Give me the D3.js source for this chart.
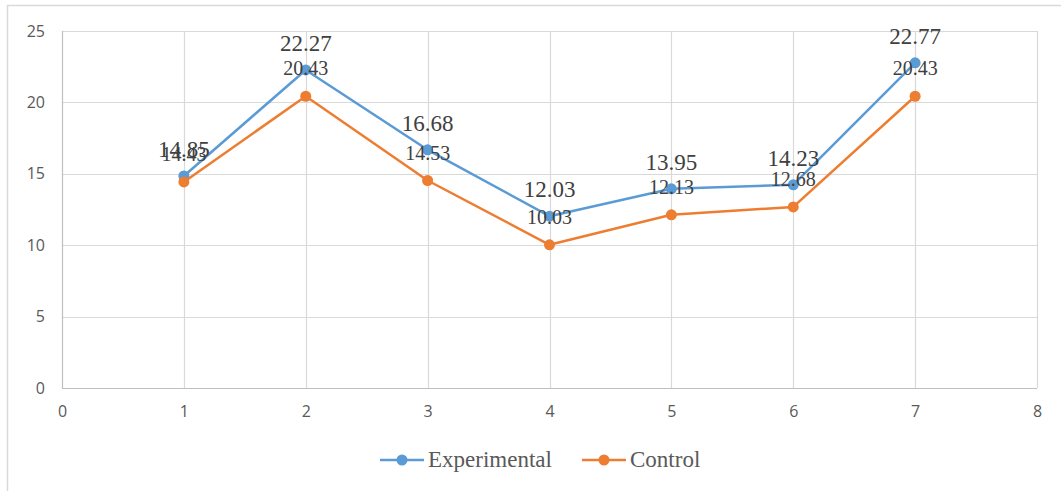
<!DOCTYPE html>
<html><head><meta charset="utf-8">
<script src="https://cdn.jsdelivr.net/npm/d3@7"></script>
<style>html,body{margin:0;padding:0;background:#fff;}svg{display:block;}</style>
</head><body>
<svg id="c" width="1061" height="491"></svg>
<script>
const xCats = [1, 2, 3, 4, 5, 6, 7];
const experimental = [14.85, 22.27, 16.68, 12.03, 13.95, 14.23, 22.77];
const control = [14.43, 20.43, 14.53, 10.03, 12.13, 12.68, 20.43];
const xTicks = [0, 1, 2, 3, 4, 5, 6, 7, 8];
const yTicks = [0, 5, 10, 15, 20, 25];
const seriesNames = ["Experimental", "Control"];
const seriesColors = ["#5B9BD5", "#ED7D31"];

const svg = d3.select("#c");
svg.append("rect").attr("x", 7.5).attr("y", 5.5).attr("width", 1060).attr("height", 490)
  .attr("fill", "#fff").attr("stroke", "#d9d9d9").attr("stroke-width", 1.5);

const x = d3.scaleLinear().domain([0, 8]).range([62, 1037]);
const y = d3.scaleLinear().domain([0, 25]).range([388, 31]);

const g = svg.append("g");
g.selectAll(".hg").data(yTicks).enter().append("line")
  .attr("x1", x(0)).attr("x2", x(8)).attr("y1", d => Math.round(y(d)) + 0.5).attr("y2", d => Math.round(y(d)) + 0.5)
  .attr("stroke", d => d === 0 ? "#bfbfbf" : "#d9d9d9").attr("stroke-width", 1.2);
g.selectAll(".vg").data(xTicks).enter().append("line")
  .attr("y1", y(0)).attr("y2", y(25)).attr("x1", d => Math.round(x(d)) + 0.5).attr("x2", d => Math.round(x(d)) + 0.5)
  .attr("stroke", d => d === 0 ? "#bfbfbf" : "#d9d9d9").attr("stroke-width", 1.2);

const tickFont = "'Open Sans', 'Liberation Sans', sans-serif";
const yAxis = d3.axisLeft(y).tickValues(yTicks).tickSize(0).tickPadding(17);
const ya = svg.append("g").attr("transform", `translate(${x(0)},0)`).call(yAxis);
ya.select(".domain").remove();
ya.selectAll("text").attr("fill", "#595959").style("font-family", tickFont).style("font-size", "16px");

const xAxis = d3.axisBottom(x).tickValues(xTicks).tickSize(0).tickPadding(18);
const xa = svg.append("g").attr("transform", `translate(0,${y(0)})`).call(xAxis);
xa.select(".domain").remove();
xa.selectAll("text").attr("fill", "#595959").style("font-family", tickFont).style("font-size", "16px");

const line = d3.line().x((d, i) => x(xCats[i])).y(d => y(d));
const data = [experimental, control];
data.forEach((vals, si) => {
  svg.append("path").datum(vals).attr("d", line).attr("fill", "none")
    .attr("stroke", seriesColors[si]).attr("stroke-width", 2.5).attr("stroke-linejoin", "round");
  svg.selectAll(".m" + si).data(vals).enter().append("circle")
    .attr("cx", (d, i) => x(xCats[i])).attr("cy", d => y(d)).attr("r", 5.5)
    .attr("fill", seriesColors[si]);
});
svg.selectAll(".le").data(experimental).enter().append("text")
  .attr("x", (d, i) => x(xCats[i])).attr("y", d => y(d) - 19)
  .attr("text-anchor", "middle").attr("fill", "#404040")
  .style("font-family", "'Liberation Serif', serif").style("font-size", "23px")
  .text(d => d.toFixed(2));
svg.selectAll(".lc").data(control).enter().append("text")
  .attr("x", (d, i) => x(xCats[i])).attr("y", d => y(d) - 21)
  .attr("text-anchor", "middle").attr("fill", "#404040")
  .style("font-family", "'Liberation Serif', serif").style("font-size", "20px")
  .text(d => d.toFixed(2));

const legX = [380, 582];
seriesNames.forEach((n, i) => {
  const lg = svg.append("g").attr("transform", `translate(${legX[i]},460)`);
  lg.append("line").attr("x1", 0).attr("x2", 44).attr("y1", 0).attr("y2", 0)
    .attr("stroke", seriesColors[i]).attr("stroke-width", 2.5);
  lg.append("circle").attr("cx", 22).attr("cy", 0).attr("r", 5.5).attr("fill", seriesColors[i]);
  lg.append("text").attr("x", 48).attr("y", 7).attr("fill", "#595959")
    .style("font-family", "'Liberation Serif', serif").style("font-size", "23px").text(n);
});
</script>
</body></html>
